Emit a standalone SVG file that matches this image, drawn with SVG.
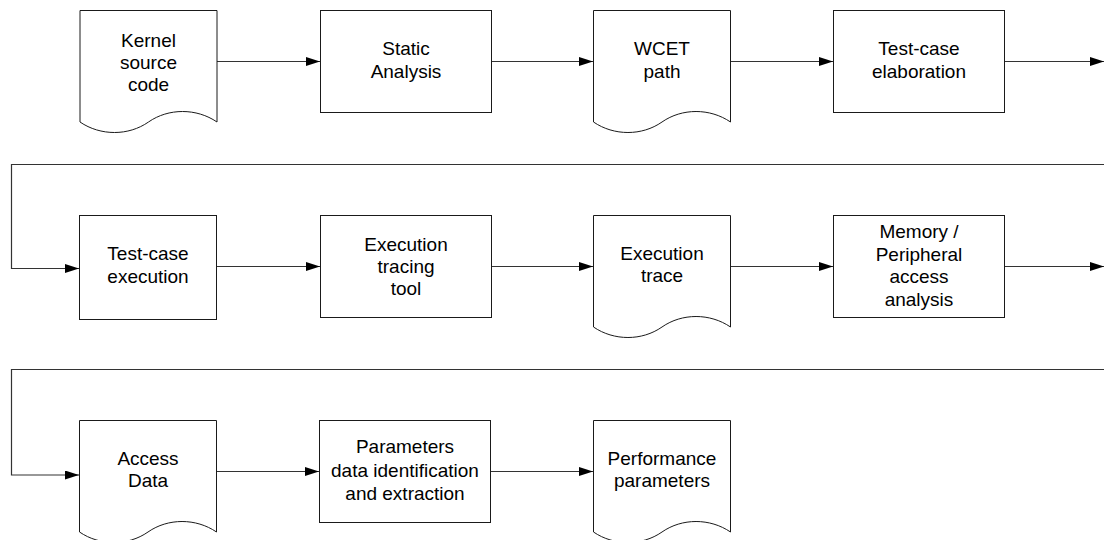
<svg xmlns="http://www.w3.org/2000/svg" width="1104" height="540" viewBox="0 0 1104 540">
  <style>
    .box { fill: #fff; stroke: #1a1a1a; stroke-width: 1; }
    .lbl { font-family: "Liberation Sans", Arial, sans-serif; font-size: 19px; fill: #000; text-anchor: middle; }
    .conn { fill: none; stroke: #333; stroke-width: 1.2; }
  </style>
  <defs>
    <marker id="arrow" markerUnits="userSpaceOnUse" markerWidth="14" markerHeight="10" refX="14" refY="4.5" orient="auto">
      <path d="M0,0 L14,4.5 L0,9 Z" fill="#000"/>
    </marker>
    <!-- document shape with wavy bottom, origin at top-left corner -->
    <path id="doc" d="M0,0 H137 V111.5 C116.5,97.5 88.5,97.5 68.5,111.5 C48.5,125.5 20.5,125.5 0,111.5 Z"/>
  </defs>

  <!-- connectors -->
  <g id="connectors" class="conn" marker-end="url(#arrow)">
    <!-- row 1 -->
    <path d="M217,61.5 H320"/>
    <path d="M491.5,61.5 H593"/>
    <path d="M730.5,61.5 H833"/>
    <path d="M1004.5,61.5 H1104"/>
    <path d="M1104,164.5 H11.5 V268.5 H79"/>
    <!-- row 2 -->
    <path d="M216.5,266.5 H320"/>
    <path d="M491.5,266.5 H593"/>
    <path d="M730.5,266.5 H833"/>
    <path d="M1004.5,266.5 H1104"/>
    <path d="M1104,369.5 H11.5 V475 H79"/>
    <!-- row 3 -->
    <path d="M216.5,471.5 H319"/>
    <path d="M490.5,471.5 H593"/>
  </g>

  <!-- row 1 -->
  <g id="kernel-source">
    <use href="#doc" class="box" x="80" y="10.5"/>
    <text class="lbl" x="148.5"><tspan x="148.5" y="47">Kernel</tspan><tspan x="148.5" y="69">source</tspan><tspan x="148.5" y="91">code</tspan></text>
  </g>
  <g id="static-analysis">
    <rect class="box" x="320.5" y="10.5" width="171" height="102"/>
    <text class="lbl"><tspan x="406" y="55">Static</tspan><tspan x="406" y="77.5">Analysis</tspan></text>
  </g>
  <g id="wcet-path">
    <use href="#doc" class="box" x="593.5" y="10.5"/>
    <text class="lbl"><tspan x="662" y="55">WCET</tspan><tspan x="662" y="77.5">path</tspan></text>
  </g>
  <g id="testcase-elaboration">
    <rect class="box" x="833.5" y="10.5" width="171" height="102"/>
    <text class="lbl"><tspan x="919" y="55">Test-case</tspan><tspan x="919" y="77.5">elaboration</tspan></text>
  </g>

  <!-- row 2 -->
  <g id="testcase-execution">
    <rect class="box" x="79.5" y="215.5" width="137" height="104"/>
    <text class="lbl"><tspan x="148" y="260">Test-case</tspan><tspan x="148" y="282.5">execution</tspan></text>
  </g>
  <g id="execution-tracing-tool">
    <rect class="box" x="320.5" y="215.5" width="171" height="102"/>
    <text class="lbl"><tspan x="406" y="251">Execution</tspan><tspan x="406" y="273">tracing</tspan><tspan x="406" y="295">tool</tspan></text>
  </g>
  <g id="execution-trace">
    <use href="#doc" class="box" x="593.5" y="215.5"/>
    <text class="lbl"><tspan x="662" y="260">Execution</tspan><tspan x="662" y="282">trace</tspan></text>
  </g>
  <g id="memory-access-analysis">
    <rect class="box" x="833.5" y="215.5" width="171" height="102"/>
    <text class="lbl"><tspan x="919" y="238">Memory /</tspan><tspan x="919" y="260.5">Peripheral</tspan><tspan x="919" y="283">access</tspan><tspan x="919" y="305.5">analysis</tspan></text>
  </g>

  <!-- row 3 -->
  <g id="access-data">
    <use href="#doc" class="box" x="79.5" y="420.5"/>
    <text class="lbl"><tspan x="148" y="464.5">Access</tspan><tspan x="148" y="487">Data</tspan></text>
  </g>
  <g id="parameters-extraction">
    <rect class="box" x="319.5" y="420.5" width="171" height="102"/>
    <text class="lbl"><tspan x="405" y="453">Parameters</tspan><tspan x="405" y="476.5">data identification</tspan><tspan x="405" y="500">and extraction</tspan></text>
  </g>
  <g id="performance-parameters">
    <use href="#doc" class="box" x="593.5" y="420.5"/>
    <text class="lbl"><tspan x="662" y="465">Performance</tspan><tspan x="662" y="487">parameters</tspan></text>
  </g>
</svg>
